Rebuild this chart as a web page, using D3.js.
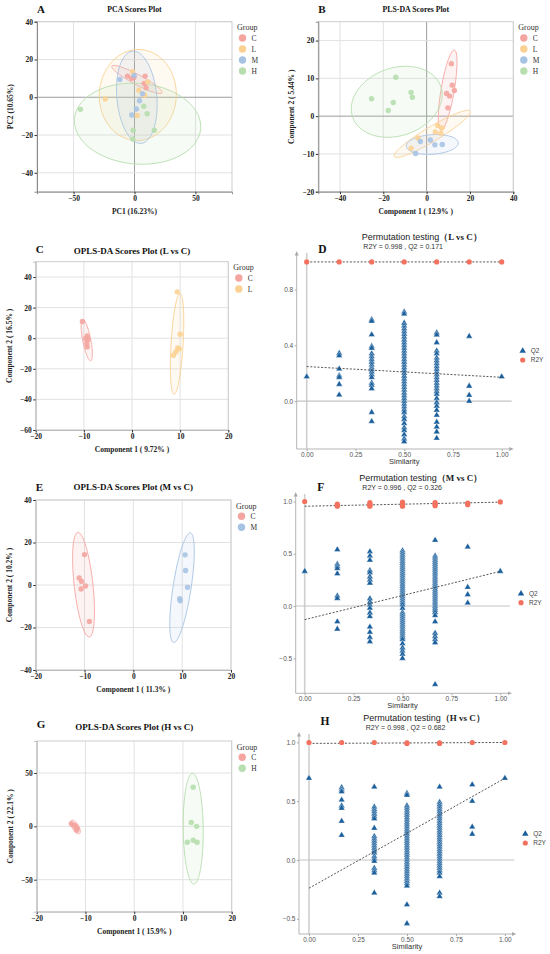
<!DOCTYPE html>
<html>
<head>
<meta charset="utf-8">
<script src="https://cdn.jsdelivr.net/npm/d3@7"></script>
<style>
  body { margin: 0; background: #fff; }
  svg { display: block; }
</style>
</head>
<body>
<div id="fig"></div>
<script>
// ---------- data ----------
const groupColors = { C: "#F4A5A0", L: "#FBD193", M: "#A7C3E4", H: "#B6DEAE" };

// A: PCA scores
const pcaC = [[-5.7, 11.2], [-2.5, 9.9], [-0.5, 10.4], [8.7, 11.2], [7.9, 7.3], [9.5, 5.0]];
const pcaL = [[-24, -0.9], [-1.6, 13.5], [3.5, 3.7], [10.9, 8.1], [8.4, 1.1], [2.2, -9.6]];
const pcaM = [[-12, 9.4], [-0.3, 11.5], [6.5, 1.9], [4.1, -1.8], [1.6, -6.2], [-2.2, -9.4]];
const pcaH = [[-44.4, -6.4], [-1.1, -17.5], [-1.4, -22.1], [16.3, -17.5], [7.6, -4.8], [10.4, -8.7]];
// ellipse = [centre x, centre y, semi-axis 1 (dx, dy), semi-axis 2 (dx, dy)] in data units
const pcaEllC = [2.0, 9.4, 20.6, -7.1, -1.9, -2.35];
const pcaEllL = [2.7, 1.2, 31.6, 1.0, -0.8, 24.1];
const pcaEllM = [1.9, 0, -3.5, 24.4, 16.3, 1.0];
const pcaEllH = [2.5, -14.0, 51.8, -2.65, -2.6, -21.3];

// B: PLS-DA scores
const plsC = [[11.4, 13.9], [11.8, 8.2], [12.8, 6.8], [9.2, 6.0], [10.6, 5.3], [9.8, 2.2]];
const plsL = [[5.1, -2.5], [7.1, -3.1], [4.0, -4.2], [6.6, -4.5], [-4.0, -5.8], [-7.2, -8.5]];
const plsM = [[-2.9, -6.7], [1.7, -6.3], [3.8, -7.6], [7.2, -7.5], [-5.1, -9.9]];
const plsH = [[-25.4, 4.6], [-14.2, 10.3], [-15.4, 3.6], [-17.7, 1.5], [-7.2, 6.3], [-6.6, 5.0]];
const plsEllC = [9.7, 6.9, 3.1, 10.6, 3.0, -0.29];
const plsEllL = [2.6, -4.7, 17.5, 6.0, 1.7, -1.67];
const plsEllM = [2.6, -7.5, 12, 0.4, 0, -2.6];
const plsEllH = [-13.8, 3.8, 20.5, 3.8, 4.5, -8.6];

// C: OPLS-DA L vs C
const lcC = [[-10.3, 10.9], [-9.3, 1.5], [-9.1, -0.9], [-9.4, -3.5], [-9.3, -5.7], [-9.6, -0.2]];
const lcL = [[9.4, 30.3], [10, 2.6], [9.5, -6.3], [9.1, -9], [8.6, -11.1], [9.8, -7]];
const lcEllC = [-9.4, -1.3, -0.83, 13.5, 0.82, 0.5];
const lcEllL = [9.36, -3.7, 0.62, 33.0, 1.25, -0.24];

// E: OPLS-DA M vs C
const mcC = [[-10, 14.3], [-11.1, 3.3], [-10.6, 1.7], [-9.8, -0.5], [-10.7, -1.9], [-9, -17.2]];
const mcM = [[10.6, 14.2], [10.7, 6.8], [11.1, -1.1], [9.5, -6.5], [9.6, -7.4]];
const mcEllC = [-10.2, 0.16, -1.17, 24.6, 1.91, 0.47];
const mcEllM = [9.97, -1.26, 1.72, 25.8, 1.83, -0.64];

// G: OPLS-DA H vs C
const hcC = [[-12.9, 2.5], [-12.4, 1.2], [-12, -0.6], [-11.7, -2.2], [-12.1, 0.3], [-11.8, -3.7]];
const hcH = [[12.1, 36.6], [11.7, 3.7], [12.8, 0], [12.1, -13], [12.9, -14.9], [10.9, -14.9]];
const hcEllC = [-12.05, -0.6, 0.82, -6.2, -0.59, -1.58];
const hcEllH = [12.1, -2.2, -0.14, 51.9, 2.05, 0];

// permutation tests: one list of values per similarity level
const similarity = [0, 0.1667, 0.3333, 0.5, 0.6667, 0.8333, 1];
const simTicks = [0, 0.25, 0.5, 0.75, 1];

const lcQ2 = [
  [0.175],
  [0.343, 0.326, 0.231, 0.183, 0.171, 0.121, 0.045],
  [0.585, 0.573, 0.477, 0.393, 0.38, 0.34, 0.32, 0.30, 0.28, 0.26, 0.24, 0.225, 0.21, 0.19, 0.17, 0.13, 0.115, 0.09, -0.08, -0.145],
  [0.64, 0.625, 0.56, 0.54, 0.52, 0.50, 0.48, 0.46, 0.44, 0.42, 0.40, 0.38, 0.36, 0.34, 0.32, 0.30, 0.28, 0.26, 0.24, 0.22, 0.20, 0.18, 0.16, 0.14, 0.12, 0.10, 0.08, 0.06, 0.04, 0.02, 0.0, -0.02, -0.04, -0.06, -0.08, -0.11, -0.13, -0.16, -0.19, -0.21, -0.24, -0.27, -0.29],
  [0.49, 0.475, 0.42, 0.36, 0.34, 0.31, 0.29, 0.27, 0.25, 0.23, 0.21, 0.19, 0.17, 0.15, 0.13, 0.11, 0.09, 0.07, 0.05, 0.02, -0.01, -0.035, -0.065, -0.1, -0.15, -0.185, -0.22, -0.265],
  [0.465, 0.108, 0.043, 0.0],
  [0.175]
];
const lcR2Y = [[0.998], [0.998], [0.998], [0.998], [0.998], [0.998], [0.998]];
const lcQ2Line = [0.248, 0.171];
const lcR2YLine = [0.998, 0.998];

const mcQ2 = [
  [0.332],
  [0.54, 0.40, 0.38, 0.36, 0.31, 0.097, 0.074, -0.15, -0.22],
  [0.52, 0.48, 0.44, 0.34, 0.32, 0.28, 0.25, 0.22, 0.07, 0.04, 0.01, -0.02, -0.065, -0.1, -0.2, -0.25, -0.3, -0.34],
  [0.53, 0.51, 0.49, 0.47, 0.45, 0.43, 0.41, 0.39, 0.37, 0.35, 0.33, 0.31, 0.29, 0.27, 0.25, 0.23, 0.21, 0.19, 0.17, 0.15, 0.13, 0.11, 0.09, 0.07, 0.05, 0.03, 0.01, -0.02, -0.06, -0.08, -0.10, -0.12, -0.14, -0.16, -0.18, -0.20, -0.22, -0.24, -0.26, -0.28, -0.30, -0.32, -0.36, -0.40, -0.43, -0.46, -0.50],
  [0.63, 0.48, 0.46, 0.44, 0.42, 0.40, 0.38, 0.36, 0.34, 0.32, 0.30, 0.28, 0.26, 0.24, 0.22, 0.20, 0.18, 0.16, 0.14, 0.12, 0.10, 0.08, 0.06, 0.04, 0.02, 0.0, -0.02, -0.04, -0.06, -0.09, -0.15, -0.26, -0.29, -0.32, -0.35, -0.75],
  [0.565, 0.18, 0.11, 0.03],
  [0.332]
];
const mcR2Y = [[1.0], [0.975, 0.965, 0.955], [0.99, 0.975, 0.965, 0.955], [0.995, 0.98, 0.965, 0.955], [0.99, 0.975, 0.96], [0.985, 0.97], [0.996]];
const mcQ2Line = [-0.13, 0.332];
const mcR2YLine = [0.955, 0.994];

const hcQ2 = [
  [0.694],
  [0.615, 0.595, 0.58, 0.51, 0.46, 0.44, 0.33, 0.21],
  [0.62, 0.45, 0.43, 0.41, 0.39, 0.37, 0.35, 0.27, 0.2, 0.18, 0.16, 0.14, 0.12, 0.10, 0.08, 0.06, 0.03, 0.01, -0.01, -0.07, -0.09, -0.11, -0.28],
  [0.566, 0.55, 0.46, 0.44, 0.42, 0.40, 0.38, 0.36, 0.34, 0.32, 0.30, 0.28, 0.26, 0.24, 0.22, 0.20, 0.18, 0.16, 0.14, 0.12, 0.10, 0.08, 0.06, 0.04, 0.02, 0.0, -0.02, -0.04, -0.06, -0.08, -0.10, -0.12, -0.14, -0.16, -0.18, -0.20, -0.22, -0.38, -0.54],
  [0.62, 0.49, 0.47, 0.45, 0.43, 0.41, 0.39, 0.37, 0.35, 0.33, 0.31, 0.29, 0.27, 0.25, 0.23, 0.21, 0.19, 0.17, 0.15, 0.13, 0.11, 0.09, 0.07, 0.05, 0.03, 0.01, -0.01, -0.03, -0.05, -0.07, -0.09, -0.11, -0.14, -0.28, -0.31],
  [0.64, 0.5, 0.28, 0.22],
  [0.694]
];
const hcR2Y = [[0.998], [0.998], [0.998], [0.995, 0.99], [0.995, 0.99], [0.998], [0.998]];
const hcQ2Line = [-0.24, 0.694];
const hcR2YLine = [0.99, 0.998];

// ---------- drawing ----------
const serif = "'Liberation Serif','Times New Roman',serif";
const sans = "'Liberation Sans',Arial,sans-serif";
const q2Color = "#1A5F9C";
const r2yColor = "#F3715F";

const svg = d3.select("#fig")
  .append("svg")
  .attr("width", 550)
  .attr("height", 954)
  .style("background", "#fff");

svg.append("defs")
  .append("marker")
  .attr("id", "arrow")
  .attr("viewBox", "0 0 10 10")
  .attr("refX", 5)
  .attr("refY", 5)
  .attr("markerWidth", 5)
  .attr("markerHeight", 5)
  .attr("orient", "auto")
  .append("path")
  .attr("d", "M0,1 L9,5 L0,9 Z")
  .attr("fill", "#aaaaaa");

function ellipsePoints(e) {
  const [cx, cy, ux, uy, vx, vy] = e;
  return d3.range(0, 360, 4).map(a => {
    const t = a * Math.PI / 180;
    return [cx + Math.cos(t) * ux + Math.sin(t) * vx, cy + Math.cos(t) * uy + Math.sin(t) * vy];
  });
}

function drawScores(cfg) {
  const x = d3.scaleLinear().domain(cfg.xDomain).range([cfg.left, cfg.right]);
  const y = d3.scaleLinear().domain(cfg.yDomain).range([cfg.bottom, cfg.top]);
  const g = svg.append("g");

  g.selectAll(".gx")
    .data(cfg.xTicks)
    .enter()
    .append("line")
    .attr("x1", d => x(d)).attr("x2", d => x(d))
    .attr("y1", cfg.top).attr("y2", cfg.bottom)
    .attr("stroke", d => cfg.zeroDark && d === 0 ? "#9c9c9c" : "#e2e2e2")
    .attr("stroke-width", 1);

  g.selectAll(".gy")
    .data(cfg.yTicks)
    .enter()
    .append("line")
    .attr("x1", cfg.left).attr("x2", cfg.right)
    .attr("y1", d => y(d)).attr("y2", d => y(d))
    .attr("stroke", d => cfg.zeroDark && d === 0 ? "#9c9c9c" : "#e2e2e2")
    .attr("stroke-width", 1);

  g.append("rect")
    .attr("x", cfg.left).attr("y", cfg.top)
    .attr("width", cfg.right - cfg.left)
    .attr("height", cfg.bottom - cfg.top)
    .attr("fill", "none")
    .attr("stroke", "#cdcdcd")
    .attr("stroke-width", 1);

  const line = d3.line()
    .x(d => x(d[0]))
    .y(d => y(d[1]))
    .curve(d3.curveLinearClosed);

  cfg.groups.forEach(gr => {
    g.append("path")
      .datum(ellipsePoints(gr.ellipse))
      .attr("d", line)
      .attr("fill", groupColors[gr.name])
      .attr("fill-opacity", 0.13)
      .attr("stroke", groupColors[gr.name])
      .attr("stroke-width", 0.9);
  });

  cfg.groups.forEach(gr => {
    g.selectAll(null)
      .data(gr.points)
      .enter()
      .append("circle")
      .attr("cx", d => x(d[0]))
      .attr("cy", d => y(d[1]))
      .attr("r", 2.7)
      .attr("fill", groupColors[gr.name])
      .attr("fill-opacity", 0.9);
  });

  const xAxis = g.append("g")
    .attr("transform", `translate(0,${cfg.bottom})`)
    .call(d3.axisBottom(x).tickValues(cfg.xTicks).tickSize(2.5).tickPadding(1.5));
  const yAxis = g.append("g")
    .attr("transform", `translate(${cfg.left},0)`)
    .call(d3.axisLeft(y).tickValues(cfg.yTicks).tickSize(2.5).tickPadding(1.5));

  [xAxis, yAxis].forEach(a => {
    a.select(".domain").attr("stroke", cfg.axisColor).attr("stroke-width", 1);
    a.selectAll(".tick line").attr("stroke", "#333");
    a.selectAll(".tick text")
      .attr("font-family", serif)
      .attr("font-weight", "bold")
      .attr("font-size", "7.5px")
      .attr("fill", "#222");
  });

  svg.append("text")
    .attr("x", (cfg.left + cfg.right) / 2)
    .attr("y", cfg.titleY)
    .attr("text-anchor", "middle")
    .attr("font-family", serif)
    .attr("font-weight", "bold")
    .attr("font-size", cfg.titleSize)
    .attr("fill", "#111")
    .text(cfg.title);

  svg.append("text")
    .attr("x", cfg.left)
    .attr("y", cfg.letterY)
    .attr("font-family", serif)
    .attr("font-weight", "bold")
    .attr("font-size", "11px")
    .attr("fill", "#111")
    .text(cfg.letter);

  svg.append("text")
    .attr("x", (cfg.left + cfg.right) / 2)
    .attr("y", cfg.bottom + 22)
    .attr("text-anchor", "middle")
    .attr("font-family", serif)
    .attr("font-weight", "bold")
    .attr("font-size", "7.5px")
    .attr("fill", "#222")
    .text(cfg.xLabel);

  svg.append("text")
    .attr("transform", `translate(${cfg.left - 24},${(cfg.top + cfg.bottom) / 2}) rotate(-90)`)
    .attr("text-anchor", "middle")
    .attr("font-family", serif)
    .attr("font-weight", "bold")
    .attr("font-size", "7.5px")
    .attr("fill", "#222")
    .text(cfg.yLabel);

  // legend
  const lx = cfg.right + 5;
  svg.append("text")
    .attr("x", lx)
    .attr("y", cfg.top + 8.5)
    .attr("font-family", serif)
    .attr("font-size", "8px")
    .attr("fill", "#333")
    .text("Group");

  cfg.groups.forEach((gr, i) => {
    const cy = cfg.top + 16.3 + i * 11;
    svg.append("circle")
      .attr("cx", lx + 5.5)
      .attr("cy", cy)
      .attr("r", 3.7)
      .attr("fill", groupColors[gr.name]);
    svg.append("text")
      .attr("x", lx + 14.5)
      .attr("y", cy + 2.6)
      .attr("font-family", serif)
      .attr("font-size", "7.5px")
      .attr("fill", "#333")
      .text(gr.name);
  });
}

function drawPerm(cfg) {
  const x = d3.scaleLinear().domain(cfg.xDomain).range([cfg.left, cfg.right]);
  const y = d3.scaleLinear().domain(cfg.yDomain).range([cfg.bottom, cfg.top]);
  const g = svg.append("g");

  // zero reference lines
  g.append("line")
    .attr("x1", x(0)).attr("x2", x(0))
    .attr("y1", cfg.top).attr("y2", cfg.bottom)
    .attr("stroke", "#cfcfcf").attr("stroke-width", 1.6);
  g.append("line")
    .attr("x1", cfg.left).attr("x2", cfg.right)
    .attr("y1", y(0)).attr("y2", y(0))
    .attr("stroke", "#c4c4c4").attr("stroke-width", 1.1);

  // axes with arrow heads
  g.append("line")
    .attr("x1", cfg.left).attr("x2", cfg.left)
    .attr("y1", cfg.bottom).attr("y2", cfg.top)
    .attr("stroke", "#b5b5b5").attr("stroke-width", 1)
    .attr("marker-end", "url(#arrow)");
  g.append("line")
    .attr("x1", cfg.left).attr("x2", cfg.right)
    .attr("y1", cfg.bottom).attr("y2", cfg.bottom)
    .attr("stroke", "#b5b5b5").attr("stroke-width", 1)
    .attr("marker-end", "url(#arrow)");

  const xAxis = g.append("g")
    .attr("transform", `translate(0,${cfg.bottom})`)
    .call(d3.axisBottom(x).tickValues(simTicks).tickFormat(d3.format(".2f")).tickSize(2).tickPadding(1.5));
  const yAxis = g.append("g")
    .attr("transform", `translate(${cfg.left},0)`)
    .call(d3.axisLeft(y).tickValues(cfg.yTicks).tickFormat(d3.format(".1f")).tickSize(2).tickPadding(1.5));

  [xAxis, yAxis].forEach(a => {
    a.select(".domain").remove();
    a.selectAll(".tick line").attr("stroke", "#aaa");
    a.selectAll(".tick text")
      .attr("font-family", sans)
      .attr("font-size", "6.5px")
      .attr("fill", "#555");
  });

  // R2Y
  g.append("line")
    .attr("x1", x(0)).attr("x2", x(1))
    .attr("y1", y(cfg.r2yLine[0])).attr("y2", y(cfg.r2yLine[1]))
    .attr("stroke", "#444").attr("stroke-width", 0.9)
    .attr("stroke-dasharray", "2,1.6");

  const r2yPoints = cfg.r2y.flatMap((vals, i) => vals.map(v => [similarity[i], v]));
  g.selectAll(null)
    .data(r2yPoints)
    .enter()
    .append("circle")
    .attr("cx", d => x(d[0]))
    .attr("cy", d => y(d[1]))
    .attr("r", 2.6)
    .attr("fill", r2yColor);

  // Q2
  const q2Points = cfg.q2.flatMap((vals, i) => vals.map(v => [similarity[i], v]));
  const tri = d3.symbol().type(d3.symbolTriangle).size(18);
  g.selectAll(null)
    .data(q2Points)
    .enter()
    .append("path")
    .attr("d", tri)
    .attr("transform", d => `translate(${x(d[0])},${y(d[1])})`)
    .attr("fill", q2Color)
    .attr("stroke", "#fff")
    .attr("stroke-width", 0.35);

  g.append("line")
    .attr("x1", x(0)).attr("x2", x(1))
    .attr("y1", y(cfg.q2Line[0])).attr("y2", y(cfg.q2Line[1]))
    .attr("stroke", "#444").attr("stroke-width", 0.9)
    .attr("stroke-dasharray", "2,1.6");

  // titles
  const title = svg.append("text")
    .attr("x", cfg.left + 125)
    .attr("y", cfg.top - 13.5)
    .attr("text-anchor", "middle")
    .attr("fill", "#222");
  title.append("tspan")
    .attr("font-family", sans)
    .attr("font-size", "9px")
    .text("Permutation testing");
  title.append("tspan")
    .attr("font-family", serif)
    .attr("font-weight", "bold")
    .attr("font-size", "9px")
    .text(cfg.pair);

  svg.append("text")
    .attr("x", cfg.left + 106.5)
    .attr("y", cfg.top - 4.5)
    .attr("text-anchor", "middle")
    .attr("font-family", sans)
    .attr("font-size", "7px")
    .attr("fill", "#333")
    .text(cfg.subtitle);

  svg.append("text")
    .attr("x", cfg.left + 21.5)
    .attr("y", cfg.letterY)
    .attr("font-family", serif)
    .attr("font-weight", "bold")
    .attr("font-size", "11.5px")
    .attr("fill", "#111")
    .text(cfg.letter);

  svg.append("text")
    .attr("x", x(0.5))
    .attr("y", cfg.bottom + 15)
    .attr("text-anchor", "middle")
    .attr("font-family", sans)
    .attr("font-size", "7.5px")
    .attr("fill", "#333")
    .text("Similarity");

  // legend
  const lx = cfg.right + 11;
  const ly = (cfg.top + cfg.bottom) / 2;
  svg.append("path")
    .attr("d", tri)
    .attr("transform", `translate(${lx},${ly})`)
    .attr("fill", q2Color);
  svg.append("text")
    .attr("x", lx + 8)
    .attr("y", ly + 2.3)
    .attr("font-family", sans)
    .attr("font-size", "6.5px")
    .attr("fill", "#444")
    .text("Q2");
  svg.append("circle")
    .attr("cx", lx)
    .attr("cy", ly + 9)
    .attr("r", 2.6)
    .attr("fill", r2yColor);
  svg.append("text")
    .attr("x", lx + 8)
    .attr("y", ly + 11.3)
    .attr("font-family", sans)
    .attr("font-size", "6.5px")
    .attr("fill", "#444")
    .text("R2Y");
}

// ---------- panels ----------
drawScores({
  left: 37, right: 232, top: 21.7, bottom: 191.7,
  xDomain: [-80, 80], yDomain: [-50, 40],
  xTicks: [-50, 0, 50], yTicks: [-40, -20, 0, 20, 40],
  zeroDark: true, axisColor: "#8a8a8a",
  title: "PCA Scores Plot", titleSize: "7.8px", titleY: 12, letter: "A", letterY: 12.5,
  xLabel: "PC1 (16.23%)", yLabel: "PC2 (10.65%)",
  groups: [
    { name: "C", points: pcaC, ellipse: pcaEllC },
    { name: "L", points: pcaL, ellipse: pcaEllL },
    { name: "M", points: pcaM, ellipse: pcaEllM },
    { name: "H", points: pcaH, ellipse: pcaEllH }
  ]
});

drawScores({
  left: 318.3, right: 513.3, top: 21.7, bottom: 191.7,
  xDomain: [-50, 40], yDomain: [-20, 25],
  xTicks: [-40, -20, 0, 20, 40], yTicks: [-20, -10, 0, 10, 20],
  zeroDark: true, axisColor: "#8a8a8a",
  title: "PLS-DA Scores Plot", titleSize: "7.8px", titleY: 12, letter: "B", letterY: 12.5,
  xLabel: "Component 1 ( 12.9% )", yLabel: "Component 2 ( 5.44% )",
  groups: [
    { name: "C", points: plsC, ellipse: plsEllC },
    { name: "L", points: plsL, ellipse: plsEllL },
    { name: "M", points: plsM, ellipse: plsEllM },
    { name: "H", points: plsH, ellipse: plsEllH }
  ]
});

drawScores({
  left: 35.7, right: 228.3, top: 261.7, bottom: 430,
  xDomain: [-20, 20], yDomain: [-60, 50],
  xTicks: [-20, -10, 0, 10, 20], yTicks: [-60, -40, -20, 0, 20, 40],
  zeroDark: false, axisColor: "#bdbdbd",
  title: "OPLS-DA Scores Plot (L vs C)", titleSize: "9px", titleY: 254, letter: "C", letterY: 253.3,
  xLabel: "Component 1 ( 9.72% )", yLabel: "Component 2 ( 16.5% )",
  groups: [
    { name: "C", points: lcC, ellipse: lcEllC },
    { name: "L", points: lcL, ellipse: lcEllL }
  ]
});

drawScores({
  left: 35.7, right: 231, top: 500, bottom: 670,
  xDomain: [-20, 20], yDomain: [-40, 40],
  xTicks: [-20, -10, 0, 10, 20], yTicks: [-40, -20, 0, 20, 40],
  zeroDark: false, axisColor: "#bdbdbd",
  title: "OPLS-DA Scores Plot (M vs C)", titleSize: "9px", titleY: 490, letter: "E", letterY: 490.7,
  xLabel: "Component 1 ( 11.3% )", yLabel: "Component 2 ( 10.2% )",
  groups: [
    { name: "C", points: mcC, ellipse: mcEllC },
    { name: "M", points: mcM, ellipse: mcEllM }
  ]
});

drawScores({
  left: 36.7, right: 231.7, top: 741, bottom: 911.7,
  xDomain: [-20, 20], yDomain: [-80, 80],
  xTicks: [-20, -10, 0, 10, 20], yTicks: [-50, 0, 50],
  zeroDark: false, axisColor: "#bdbdbd",
  title: "OPLS-DA Scores Plot (H vs C)", titleSize: "9px", titleY: 730, letter: "G", letterY: 728.3,
  xLabel: "Component 1 ( 15.9% )", yLabel: "Component 2 ( 22.1% )",
  groups: [
    { name: "C", points: hcC, ellipse: hcEllC },
    { name: "H", points: hcH, ellipse: hcEllH }
  ]
});

drawPerm({
  left: 296.7, right: 511.7, top: 253, bottom: 449,
  xDomain: [-0.0513, 1.0513], yDomain: [-0.343, 1.062], yTicks: [0, 0.4, 0.8],
  pair: "（L vs C）", subtitle: "R2Y = 0.998 ,  Q2 = 0.171", letter: "D", letterY: 253,
  q2: lcQ2, r2y: lcR2Y, q2Line: lcQ2Line, r2yLine: lcR2YLine
});

drawPerm({
  left: 295.7, right: 510, top: 494, bottom: 693.3,
  xDomain: [-0.046, 1.0496], yDomain: [-0.835, 1.072], yTicks: [-0.5, 0, 0.5, 1.0],
  pair: "（M vs C）", subtitle: "R2Y = 0.996 ,  Q2 = 0.326", letter: "F", letterY: 490.5,
  q2: mcQ2, r2y: mcR2Y, q2Line: mcQ2Line, r2yLine: mcR2YLine
});

drawPerm({
  left: 299, right: 514.3, top: 734, bottom: 934,
  xDomain: [-0.051, 1.048], yDomain: [-0.629, 1.07], yTicks: [-0.5, 0, 0.5, 1.0],
  pair: "（H vs C）", subtitle: "R2Y = 0.998 ,  Q2 = 0.682", letter: "H", letterY: 724.5,
  q2: hcQ2, r2y: hcR2Y, q2Line: hcQ2Line, r2yLine: hcR2YLine
});
</script>
</body>
</html>
